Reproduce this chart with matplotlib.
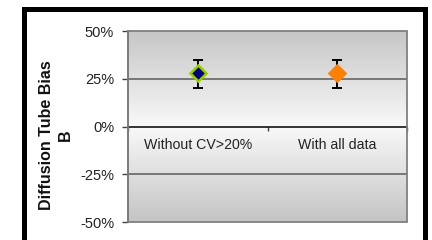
import numpy as np
import matplotlib
matplotlib.use('Agg')
import matplotlib.pyplot as plt
from matplotlib.patches import Rectangle
from matplotlib.colors import LinearSegmentedColormap

plt.rcParams['font.family'] = ['Liberation Sans', 'DejaVu Sans']

categories = ['Without CV>20%', 'With all data']
bias = [0.28, 0.28]
err_low = [0.08, 0.08]
err_high = [0.07, 0.07]
face_colors = ['#000080', '#FF8000']
edge_colors = ['#99CC00', '#FF8000']
yticks = [-0.5, -0.25, 0, 0.25, 0.5]
ytick_labels = ['-50%', '-25%', '0%', '25%', '50%']

W, H = 432, 240
fig = plt.figure(figsize=(W / 100, H / 100), dpi=100)
fig.patch.set_facecolor('white')

# thick black outer frame (bottom edge runs off the picture)
fig.patches.append(Rectangle((23.5 / W, -0.2), 401 / W, 1.2 - 8.5 / H,
                             transform=fig.transFigure, fill=False,
                             edgecolor='black', lw=3.6, clip_on=False))

ax = fig.add_axes([128 / W, 1 - 222 / H, 279 / W, 191 / H])
ax.set_xlim(0, 2)

# vertical grey -> white -> grey gradient in the plot area
cmap = LinearSegmentedColormap.from_list('bg', ['#c4c4c4', '#f9f9f9', '#c6c6c6'])
grad = np.linspace(0, 1, 256).reshape(-1, 1)
ax.imshow(grad, extent=[0, 2, 0.5, -0.5], aspect='auto', cmap=cmap,
          origin='upper', zorder=0, interpolation='bilinear')
ax.set_ylim(-0.5, 0.5)

for g in (0.25, -0.25):
    ax.axhline(g, color='#5a5a5a', lw=1.1, zorder=1)

# category axis crossing at zero
ax.spines['bottom'].set_position(('data', 0))
ax.spines['bottom'].set_color('black')
ax.spines['bottom'].set_linewidth(1.1)
for s in ('top', 'right'):
    ax.spines[s].set_visible(False)
ax.spines['left'].set_color('#404040')
ax.spines['left'].set_linewidth(1.1)
ax.add_patch(Rectangle((0, 0), 1, 1, transform=ax.transAxes, fill=False,
                       edgecolor='#808080', lw=1.3, zorder=3, clip_on=False))

ax.set_xticks([0, 1, 2])
ax.set_xticklabels([])
ax.tick_params(axis='x', which='major', direction='out', length=3, width=1, color='#404040')
ax.set_xticks([0.5, 1.5], minor=True)
ax.set_xticklabels(categories, minor=True, fontsize=10.2, color='#222222')
ax.tick_params(axis='x', which='minor', length=0, pad=8)

ax.set_yticks(yticks)
ax.set_yticklabels(ytick_labels, fontsize=10.5, color='#222222')
ax.tick_params(axis='y', direction='out', length=4, width=1, pad=6, color='#404040')

xs = [0.5, 1.5]
ax.errorbar(xs, bias, yerr=[err_low, err_high], fmt='none', ecolor='black',
            elinewidth=1.4, capsize=3.8, capthick=1.4, zorder=4)
for x, y, fc, ec in zip(xs, bias, face_colors, edge_colors):
    ax.plot([x], [y], marker='D', markersize=8.5, markerfacecolor=fc,
            markeredgecolor=ec, markeredgewidth=1.8, zorder=5)

fig.text(56 / W, 1 - 135 / H, 'Diffusion Tube Bias\nB', rotation=90,
         ha='center', va='center', fontsize=11.5, fontweight='bold',
         linespacing=1.3, multialignment='center', color='#111111')

fig.savefig('out.png', dpi=100)
